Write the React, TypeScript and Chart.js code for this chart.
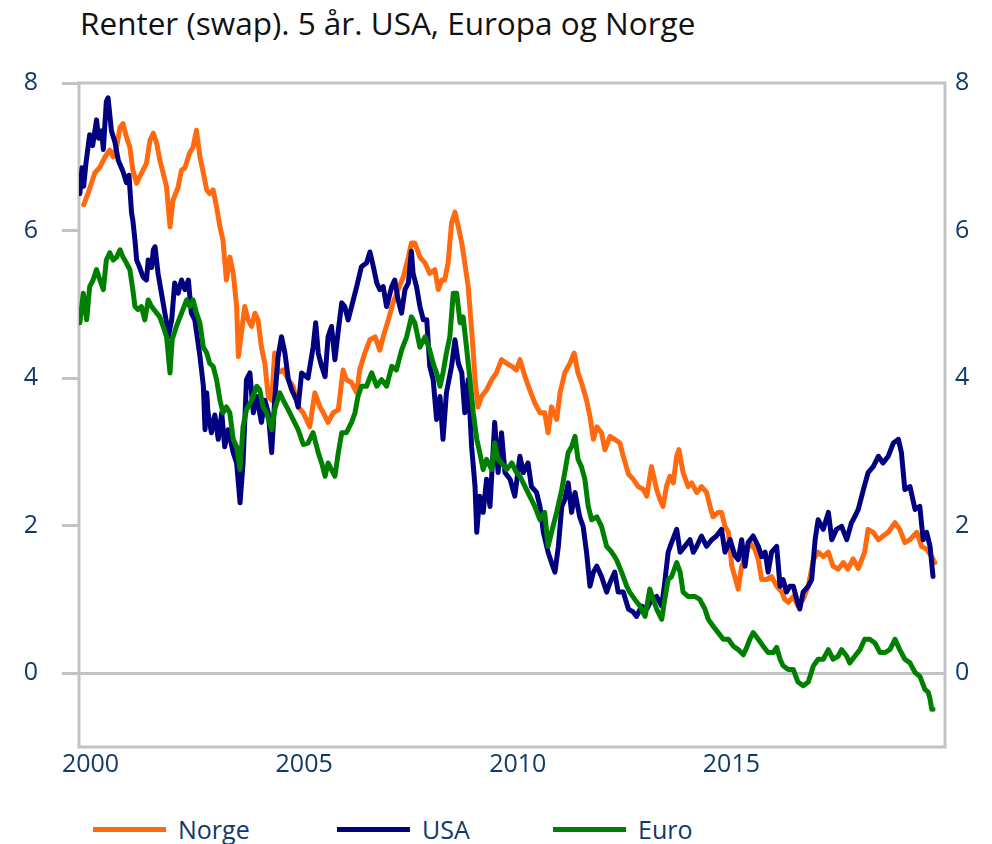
import React, { useEffect, useRef } from "react";
import { Chart, registerables } from "chart.js";

Chart.register(...registerables);

const chartTitle = "Renter (swap). 5 år. USA, Europa og Norge";
const seriesNames = ["Norge", "USA", "Euro"];
const seriesColors = ["#FF6A10", "#000080", "#008000"];
const yTickValues = [0, 2, 4, 6, 8];
const xTickValues = [2000, 2005, 2010, 2015];

const norgeDates = [
  1999.84, 1999.94, 2000.02, 2000.1, 2000.22, 2000.34, 2000.45, 2000.53, 2000.61, 2000.69,
  2000.76, 2000.84, 2000.92, 2000.99, 2001.08, 2001.15, 2001.23, 2001.31, 2001.39, 2001.47,
  2001.55, 2001.62, 2001.7, 2001.78, 2001.86, 2001.93, 2002.05, 2002.13, 2002.21, 2002.32,
  2002.4, 2002.48, 2002.56, 2002.64, 2002.72, 2002.79, 2002.87, 2002.95, 2003.03, 2003.1,
  2003.18, 2003.26, 2003.34, 2003.42, 2003.46, 2003.53, 2003.61, 2003.69, 2003.77, 2003.85,
  2003.92, 2004.0, 2004.08, 2004.16, 2004.24, 2004.31, 2004.39, 2004.51, 2004.63, 2004.74,
  2004.86, 2004.98, 2005.13, 2005.25, 2005.37, 2005.45, 2005.56, 2005.68, 2005.8, 2005.91,
  2005.99, 2006.11, 2006.23, 2006.3, 2006.42, 2006.54, 2006.66, 2006.77, 2006.85, 2006.97,
  2007.08, 2007.2, 2007.32, 2007.44, 2007.51, 2007.59, 2007.71, 2007.83, 2007.94, 2008.06,
  2008.14, 2008.22, 2008.29, 2008.37, 2008.45, 2008.53, 2008.61, 2008.69, 2008.76, 2008.84,
  2008.92, 2008.96, 2009.0, 2009.07, 2009.15, 2009.27, 2009.39, 2009.5, 2009.62, 2009.74,
  2009.86, 2009.97, 2010.05, 2010.17, 2010.28, 2010.4, 2010.52, 2010.63, 2010.71, 2010.79,
  2010.91, 2010.99, 2011.1, 2011.22, 2011.32, 2011.41, 2011.49, 2011.61, 2011.69, 2011.77,
  2011.85, 2011.96, 2012.04, 2012.16, 2012.27, 2012.39, 2012.47, 2012.59, 2012.7, 2012.82,
  2012.94, 2013.02, 2013.13, 2013.25, 2013.33, 2013.4, 2013.48, 2013.56, 2013.64, 2013.72,
  2013.77, 2013.87, 2013.99, 2014.07, 2014.19, 2014.3, 2014.42, 2014.5, 2014.57, 2014.69,
  2014.77, 2014.85, 2014.93, 2015.01, 2015.08, 2015.16, 2015.24, 2015.36, 2015.43, 2015.55,
  2015.63, 2015.71, 2015.82, 2015.94, 2016.06, 2016.18, 2016.25, 2016.33, 2016.45, 2016.56,
  2016.68, 2016.8, 2016.92, 2017.03, 2017.15, 2017.27, 2017.38, 2017.5, 2017.62, 2017.73,
  2017.85, 2017.97, 2018.12, 2018.2, 2018.32, 2018.44, 2018.55, 2018.67, 2018.83, 2018.94,
  2019.06, 2019.18, 2019.34, 2019.45, 2019.57, 2019.69, 2019.76,
];
const norgeValues = [
  6.35, 6.5, 6.64, 6.78, 6.86, 7.0, 7.09, 7.0, 7.13, 7.4,
  7.45, 7.27, 7.13, 6.82, 6.64, 6.73, 6.82, 6.91, 7.22, 7.32,
  7.18, 6.96, 6.78, 6.59, 6.05, 6.41, 6.59, 6.82, 6.85, 7.05,
  7.13, 7.36, 7.0, 6.78, 6.55, 6.5, 6.55, 6.32, 6.05, 5.87,
  5.33, 5.64, 5.42, 4.97, 4.29, 4.61, 4.97, 4.79, 4.7, 4.88,
  4.79, 4.42, 4.2, 3.75, 3.7, 4.34, 4.07, 4.11, 3.98, 3.89,
  3.61, 3.53, 3.34, 3.8, 3.61, 3.53, 3.4, 3.53, 3.57, 4.11,
  3.98, 3.94, 3.8, 4.11, 4.34, 4.52, 4.56, 4.38, 4.56, 4.79,
  5.02, 5.2, 5.37, 5.64, 5.83, 5.83, 5.64, 5.56, 5.42, 5.47,
  5.2, 5.33, 5.33, 5.56, 6.1, 6.25, 6.05, 5.83, 5.56, 5.24,
  4.65, 4.34, 3.98, 3.61, 3.75, 3.84, 3.98, 4.07, 4.25, 4.2,
  4.16, 4.11, 4.25, 4.02, 3.84, 3.66, 3.53, 3.53, 3.26, 3.61,
  3.44, 3.8, 4.07, 4.2, 4.34, 4.07, 3.94, 3.7, 3.48, 3.17,
  3.34, 3.26, 3.03, 3.21, 3.17, 3.12, 2.94, 2.7, 2.63, 2.53,
  2.49, 2.4, 2.8, 2.49, 2.35, 2.26, 2.53, 2.67, 2.58, 2.94,
  3.03, 2.72, 2.53, 2.58, 2.45, 2.53, 2.45, 2.26, 2.12, 2.18,
  2.18, 1.99, 1.91, 1.45, 1.31, 1.14, 1.45, 1.64, 1.77, 1.68,
  1.54, 1.27, 1.27, 1.31, 1.18, 1.1, 1.0, 0.96, 1.04, 0.91,
  1.0, 1.18, 1.54, 1.64, 1.58, 1.64, 1.45, 1.41, 1.5, 1.41,
  1.55, 1.42, 1.64, 1.95, 1.91, 1.81, 1.86, 1.91, 2.04, 1.95,
  1.77, 1.81, 1.91, 1.72, 1.68, 1.58, 1.5,
];

const usaDates = [
  1999.75, 1999.8, 1999.84, 1999.89, 1999.98, 2000.05, 2000.14, 2000.19, 2000.26, 2000.3,
  2000.37, 2000.41, 2000.49, 2000.57, 2000.65, 2000.76, 2000.84, 2000.9, 2000.96, 2000.99,
  2001.04, 2001.08, 2001.15, 2001.23, 2001.31, 2001.35, 2001.43, 2001.47, 2001.51, 2001.58,
  2001.66, 2001.74, 2001.78, 2001.82, 2001.9, 2001.97, 2002.05, 2002.13, 2002.21, 2002.29,
  2002.36, 2002.44, 2002.56, 2002.64, 2002.68, 2002.72, 2002.75, 2002.83, 2002.91, 2002.99,
  2003.07, 2003.14, 2003.22, 2003.34, 2003.42, 2003.5, 2003.57, 2003.65, 2003.73, 2003.81,
  2003.89, 2004.0, 2004.08, 2004.16, 2004.24, 2004.31, 2004.39, 2004.47, 2004.55, 2004.63,
  2004.71, 2004.82, 2004.86, 2004.94, 2005.09, 2005.21, 2005.27, 2005.33, 2005.41, 2005.49,
  2005.56, 2005.64, 2005.72, 2005.8, 2005.88, 2005.95, 2006.03, 2006.15, 2006.23, 2006.34,
  2006.46, 2006.54, 2006.62, 2006.7, 2006.77, 2006.85, 2006.93, 2007.05, 2007.12, 2007.2,
  2007.28, 2007.36, 2007.44, 2007.51, 2007.55, 2007.63, 2007.71, 2007.79, 2007.87, 2007.94,
  2008.02, 2008.1, 2008.18, 2008.25, 2008.33, 2008.45, 2008.53, 2008.61, 2008.69, 2008.76,
  2008.84, 2008.92, 2009.0, 2009.04, 2009.11, 2009.19, 2009.27, 2009.35, 2009.46, 2009.54,
  2009.62, 2009.7, 2009.82, 2009.93, 2010.05, 2010.13, 2010.24, 2010.32, 2010.44, 2010.52,
  2010.6, 2010.71, 2010.79, 2010.87, 2010.95, 2011.03, 2011.1, 2011.18, 2011.26, 2011.34,
  2011.45, 2011.53, 2011.61, 2011.69, 2011.77, 2011.85, 2011.96, 2012.08, 2012.16, 2012.27,
  2012.35, 2012.47, 2012.59, 2012.7, 2012.78, 2012.9, 2013.02, 2013.13, 2013.25, 2013.37,
  2013.44, 2013.52, 2013.6, 2013.72, 2013.8, 2013.91, 2014.03, 2014.11, 2014.19, 2014.3,
  2014.42, 2014.54, 2014.65, 2014.77, 2014.85, 2014.97, 2015.08, 2015.16, 2015.24, 2015.32,
  2015.39, 2015.51, 2015.63, 2015.71, 2015.79, 2015.86, 2015.94, 2016.06, 2016.14, 2016.21,
  2016.29, 2016.37, 2016.45, 2016.53, 2016.6, 2016.68, 2016.8, 2016.88, 2016.96, 2017.03,
  2017.15, 2017.27, 2017.35, 2017.46, 2017.58, 2017.7, 2017.81, 2017.85, 2017.97, 2018.09,
  2018.2, 2018.32, 2018.44, 2018.55, 2018.67, 2018.79, 2018.91, 2018.98, 2019.06, 2019.18,
  2019.3, 2019.41, 2019.49, 2019.57, 2019.65, 2019.72,
];
const usaValues = [
  6.5, 6.85, 6.6, 6.9, 7.3, 7.15, 7.5, 7.25, 7.35, 7.1,
  7.75, 7.8, 7.35, 7.2, 6.95, 6.8, 6.65, 6.75, 6.24, 6.14,
  5.87, 5.6, 5.5, 5.37, 5.33, 5.6, 5.5, 5.74, 5.78, 5.42,
  5.15, 4.88, 4.75, 4.56, 4.79, 5.29, 5.15, 5.33, 5.2, 5.33,
  4.88, 4.79, 4.3, 3.9, 3.3, 3.8, 3.53, 3.26, 3.5, 3.17,
  3.53, 3.07, 3.3, 2.99, 2.85, 2.31, 2.85, 3.98, 4.07, 3.53,
  3.75, 3.4, 3.7, 3.53, 2.99, 3.7, 4.29, 4.56, 4.34, 3.98,
  3.84, 3.7, 3.61, 4.07, 4.0, 4.42, 4.75, 4.34, 4.16, 4.02,
  4.56, 4.7, 4.25, 4.65, 5.02, 4.97, 4.79, 5.06, 5.24, 5.51,
  5.56, 5.71, 5.51, 5.29, 5.2, 5.24, 4.97, 5.24, 5.33, 5.06,
  4.88, 5.2, 5.29, 5.72, 5.42, 5.24, 4.97, 4.79, 4.79, 4.16,
  3.98, 3.44, 3.75, 3.17, 3.8, 4.16, 4.52, 4.2, 4.07, 3.53,
  3.98, 3.07, 2.53, 1.91, 2.4, 2.18, 2.63, 2.26, 3.4, 2.72,
  3.26, 2.72, 2.63, 2.4, 2.94, 2.72, 2.85, 2.53, 2.45, 2.26,
  1.91, 1.64, 1.5, 1.37, 1.72, 2.26, 2.35, 2.58, 2.18, 2.45,
  2.12, 1.99, 1.64, 1.18, 1.37, 1.45, 1.31, 1.1, 1.23, 1.37,
  1.1, 1.1, 0.87, 0.83, 0.77, 0.91, 0.87, 1.0, 1.04, 0.91,
  1.23, 1.64, 1.77, 1.95, 1.64, 1.72, 1.81, 1.64, 1.72, 1.86,
  1.72, 1.81, 1.86, 1.95, 1.64, 1.81, 1.6, 1.54, 1.81, 1.45,
  1.77, 1.86, 1.72, 1.58, 1.64, 1.37, 1.64, 1.72, 1.18, 1.27,
  1.1, 1.18, 1.18, 1.0, 0.87, 1.1, 1.18, 1.27, 1.81, 2.08,
  1.95, 2.18, 1.81, 1.95, 1.99, 1.81, 2.04, 2.08, 2.22, 2.49,
  2.72, 2.8, 2.94, 2.85, 2.94, 3.12, 3.17, 2.99, 2.49, 2.53,
  2.22, 2.26, 1.81, 1.91, 1.72, 1.31,
];

const euroDates = [
  1999.75, 1999.83, 1999.91, 1999.98, 2000.06, 2000.14, 2000.22, 2000.3, 2000.37, 2000.45,
  2000.53, 2000.61, 2000.69, 2000.76, 2000.84, 2000.92, 2000.99, 2001.04, 2001.11, 2001.19,
  2001.27, 2001.35, 2001.43, 2001.55, 2001.62, 2001.7, 2001.78, 2001.86, 2001.91, 2002.01,
  2002.13, 2002.25, 2002.32, 2002.4, 2002.48, 2002.56, 2002.64, 2002.72, 2002.79, 2002.87,
  2002.95, 2003.03, 2003.1, 2003.18, 2003.26, 2003.34, 2003.42, 2003.5, 2003.57, 2003.65,
  2003.77, 2003.89, 2003.96, 2004.04, 2004.12, 2004.24, 2004.31, 2004.43, 2004.51, 2004.63,
  2004.74, 2004.86, 2004.98, 2005.09, 2005.21, 2005.33, 2005.41, 2005.49, 2005.56, 2005.64,
  2005.72, 2005.8, 2005.88, 2005.99, 2006.11, 2006.19, 2006.26, 2006.34, 2006.46, 2006.58,
  2006.7, 2006.81, 2006.93, 2007.05, 2007.16, 2007.28, 2007.4, 2007.51, 2007.59, 2007.71,
  2007.83, 2007.94, 2008.02, 2008.1, 2008.18, 2008.25, 2008.33, 2008.41, 2008.49, 2008.57,
  2008.65, 2008.72, 2008.8, 2008.88, 2008.96, 2009.04, 2009.11, 2009.19, 2009.27, 2009.39,
  2009.46, 2009.54, 2009.62, 2009.74, 2009.86, 2009.97, 2010.05, 2010.17, 2010.28, 2010.4,
  2010.52, 2010.63, 2010.71, 2010.79, 2010.91, 2011.03, 2011.1, 2011.18, 2011.26, 2011.34,
  2011.41, 2011.49, 2011.57, 2011.65, 2011.73, 2011.85, 2011.96, 2012.08, 2012.2, 2012.31,
  2012.43, 2012.55, 2012.62, 2012.74, 2012.86, 2012.98, 2013.09, 2013.17, 2013.25, 2013.37,
  2013.44, 2013.52, 2013.6, 2013.72, 2013.8, 2013.87, 2013.99, 2014.15, 2014.26, 2014.38,
  2014.46, 2014.57, 2014.69, 2014.81, 2014.93, 2015.04, 2015.16, 2015.28, 2015.36, 2015.43,
  2015.51, 2015.63, 2015.74, 2015.86, 2015.98, 2016.06, 2016.14, 2016.21, 2016.33, 2016.45,
  2016.56, 2016.68, 2016.8, 2016.92, 2017.03, 2017.15, 2017.27, 2017.38, 2017.5, 2017.58,
  2017.7, 2017.77, 2017.89, 2018.01, 2018.12, 2018.24, 2018.36, 2018.48, 2018.59, 2018.71,
  2018.83, 2018.94, 2019.06, 2019.18, 2019.3, 2019.41, 2019.53, 2019.61, 2019.65, 2019.69,
  2019.72,
];
const euroValues = [
  4.75, 5.15, 4.79, 5.24, 5.33, 5.47, 5.33, 5.2, 5.6, 5.7,
  5.6, 5.64, 5.74, 5.64, 5.56, 5.47, 5.2, 4.97, 4.93, 4.97,
  4.79, 5.06, 4.97, 4.88, 4.83, 4.7, 4.56, 4.07, 4.52, 4.7,
  4.88, 5.06, 4.97, 5.06, 4.88, 4.75, 4.42, 4.34, 4.2, 4.16,
  3.98, 3.7, 3.53, 3.61, 3.53, 3.17, 3.07, 2.76, 3.34, 3.57,
  3.7, 3.89, 3.84, 3.61, 3.53, 3.3, 3.57, 3.8, 3.7, 3.57,
  3.44, 3.3, 3.1, 3.12, 3.26, 2.99, 2.85, 2.67, 2.85, 2.76,
  2.67, 2.99, 3.26, 3.26, 3.4, 3.53, 3.75, 3.89, 3.89, 4.07,
  3.89, 3.98, 3.89, 4.16, 4.11, 4.38, 4.56, 4.83, 4.75, 4.42,
  4.56, 4.38, 4.2, 4.07, 3.89, 4.07, 4.34, 4.56, 5.15, 5.15,
  4.75, 4.83, 4.42, 3.98, 3.53, 3.17, 2.99, 2.76, 2.9, 2.76,
  3.12, 2.9, 2.85, 2.76, 2.85, 2.72, 2.67, 2.53, 2.4, 2.26,
  2.08, 2.18, 1.72, 1.91, 2.18, 2.49, 2.72, 2.99, 3.07, 3.21,
  2.9, 2.8, 2.63, 2.26, 2.08, 2.12, 1.99, 1.72, 1.64, 1.54,
  1.37, 1.18, 1.1, 1.0, 0.91, 0.77, 1.14, 1.0, 0.87, 0.73,
  1.0, 1.27, 1.31, 1.5, 1.37, 1.1, 1.04, 1.04, 1.0, 0.87,
  0.73, 0.64, 0.55, 0.46, 0.46, 0.37, 0.32, 0.25, 0.35, 0.46,
  0.55, 0.46, 0.37, 0.28, 0.28, 0.35, 0.19, 0.1, 0.05, 0.05,
  -0.12, -0.17, -0.12, 0.1, 0.19, 0.19, 0.32, 0.19, 0.23, 0.32,
  0.23, 0.14, 0.23, 0.32, 0.46, 0.46, 0.41, 0.28, 0.28, 0.32,
  0.46, 0.32, 0.19, 0.14, 0.01, -0.04, -0.22, -0.26, -0.35, -0.49,
  -0.49,
];

const FONT = "'Open Sans', 'Noto Sans', sans-serif";
const TEXT_BLUE = "#0F3A6B";
const FRAME_GRAY = "#C3C3C3";

const toPoints = (dates: number[], values: number[]) =>
  dates.map((d, i) => ({ x: d, y: values[i] }));

const framePlugin = {
  id: "frame",
  beforeDatasetsDraw(chart: any) {
    const { ctx, chartArea } = chart;
    const { left, top, right, bottom } = chartArea;
    ctx.save();
    ctx.strokeStyle = FRAME_GRAY;
    ctx.lineWidth = 3;
    ctx.strokeRect(left, top, right - left, bottom - top);
    ctx.restore();
  },
};

export default function App() {
  const canvasRef = useRef<HTMLCanvasElement | null>(null);

  useEffect(() => {
    document.body.style.overflow = "hidden";
    if (!canvasRef.current) return;
    const seriesData = [
      toPoints(norgeDates, norgeValues),
      toPoints(usaDates, usaValues),
      toPoints(euroDates, euroValues),
    ];
    const chart = new Chart(canvasRef.current, {
      type: "line",
      data: {
        datasets: seriesNames.map((name, i) => ({
          label: name,
          data: seriesData[i],
          borderColor: seriesColors[i],
          backgroundColor: seriesColors[i],
          borderWidth: 5,
          pointRadius: 0,
          tension: 0,
          borderJoinStyle: "round" as const,
          borderCapStyle: "round" as const,
          order: 3 - i,
        })),
      },
      options: {
        animation: false,
        responsive: false,
        maintainAspectRatio: false,
        layout: { padding: { top: 75, bottom: 0, left: 0, right: 0 } },
        plugins: {
          legend: { display: false },
          title: { display: false },
          tooltip: { enabled: false },
        },
        scales: {
          x: {
            type: "linear",
            min: 1999.73,
            max: 2020.0,
            afterBuildTicks: (scale: any) => {
              scale.ticks = xTickValues.map((v) => ({ value: v }));
            },
            afterFit: (scale: any) => {
              scale.height = 51;
            },
            grid: { display: false, drawTicks: false },
            border: { display: false },
            ticks: {
              padding: 3,
              maxRotation: 0,
              autoSkip: false,
              color: TEXT_BLUE,
              font: { family: FONT, size: 25 },
              callback: (v: any) => String(v),
            },
          },
          y: {
            type: "linear",
            position: "left",
            min: -1,
            max: 8,
            afterBuildTicks: (scale: any) => {
              scale.ticks = yTickValues.map((v) => ({ value: v }));
            },
            afterFit: (scale: any) => {
              scale.width = 71;
            },
            grid: {
              color: (c: any) => (c.tick && c.tick.value === 0 ? FRAME_GRAY : "rgba(0,0,0,0)"),
              lineWidth: 3,
              tickColor: FRAME_GRAY,
              tickWidth: 3,
              tickLength: 17,
              drawTicks: true,
            },
            border: { display: false },
            ticks: {
              padding: 24,
              color: TEXT_BLUE,
              font: { family: FONT, size: 25 },
              callback: (v: any) => String(v),
            },
          },
          y2: {
            type: "linear",
            position: "right",
            min: -1,
            max: 8,
            afterBuildTicks: (scale: any) => {
              scale.ticks = yTickValues.map((v) => ({ value: v }));
            },
            afterFit: (scale: any) => {
              scale.width = 39;
            },
            grid: { drawOnChartArea: false, drawTicks: false },
            border: { display: false },
            ticks: {
              padding: 10,
              color: TEXT_BLUE,
              font: { family: FONT, size: 25 },
              callback: (v: any) => String(v),
            },
          },
        },
      },
      plugins: [framePlugin],
    });
    return () => chart.destroy();
  }, []);

  const legendItems = [
    { left: 85, textLeft: 170 },
    { left: 329, textLeft: 414 },
    { left: 545, textLeft: 630 },
  ];

  return (
    <div style={{ position: "relative", width: 976, height: 836, fontFamily: FONT }}>
      <div
        style={{
          position: "absolute",
          left: 72,
          top: -1,
          fontSize: 31.5,
          lineHeight: "31px",
          color: "#111",
          whiteSpace: "nowrap",
        }}
      >
        {chartTitle}
      </div>
      <canvas
        ref={canvasRef}
        width={976}
        height={790}
        style={{ position: "absolute", left: 0, top: 0, width: 976, height: 790 }}
      />
      {seriesNames.map((name, i) => (
        <React.Fragment key={name}>
          <div
            style={{
              position: "absolute",
              left: legendItems[i].left,
              top: 819,
              width: 73,
              height: 5,
              background: seriesColors[i],
            }}
          />
          <div
            style={{
              position: "absolute",
              left: legendItems[i].textLeft,
              top: 806,
              fontSize: 25,
              lineHeight: "30px",
              color: TEXT_BLUE,
              whiteSpace: "nowrap",
            }}
          >
            {name}
          </div>
        </React.Fragment>
      ))}
    </div>
  );
}
